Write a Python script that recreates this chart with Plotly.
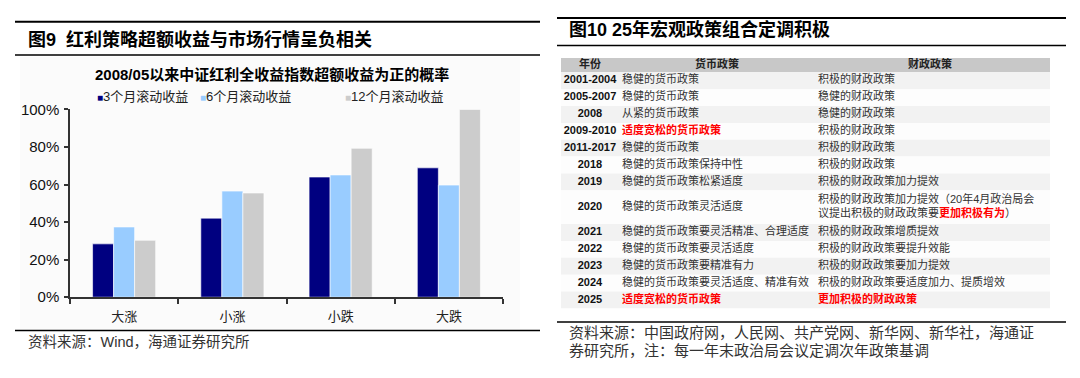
import plotly.graph_objects as go

# ---------------- data: left bar chart ----------------
categories = ["大涨", "小涨", "小跌", "大跌"]
series_names = ["3个月滚动收益", "6个月滚动收益", "12个月滚动收益"]
series_colors = ["#000080", "#99ccff", "#cccccc"]
ret_3m = [0.284, 0.421, 0.640, 0.689]
ret_6m = [0.374, 0.565, 0.651, 0.597]
ret_12m = [0.303, 0.555, 0.793, 1.000]
series_values = [ret_3m, ret_6m, ret_12m]
y_tickvals = [0, 0.2, 0.4, 0.6, 0.8, 1.0]
y_ticktext = ["0%", "20%", "40%", "60%", "80%", "100%"]

# ---------------- data: right table ----------------
table_header = ["年份", "货币政策", "财政政策"]
years = ["2001-2004", "2005-2007", "2008", "2009-2010", "2011-2017", "2018", "2019",
         "2020", "2021", "2022", "2023", "2024", "2025"]
monetary = ["稳健的货币政策", "稳健的货币政策", "从紧的货币政策", "适度宽松的货币政策",
            "稳健的货币政策", "稳健的货币政策保持中性", "稳健的货币政策松紧适度",
            "稳健的货币政策灵活适度", "稳健的货币政策要灵活精准、合理适度",
            "稳健的货币政策要灵活适度", "稳健的货币政策要精准有力",
            "稳健的货币政策要灵活适度、精准有效", "适度宽松的货币政策"]
fiscal = ["积极的财政政策", "稳健的财政政策", "稳健的财政政策", "积极的财政政策",
          "积极的财政政策", "积极的财政政策", "积极的财政政策加力提效",
          "积极的财政政策加力提效（20年4月政治局会|议提出积极的财政政策要更加积极有为）",
          "积极的财政政策增质提效", "积极的财政政策要提升效能", "积极的财政政策要加力提效",
          "积极的财政政策要适度加力、提质增效", "更加积极的财政政策"]
monetary_red = [False, False, False, True, False, False, False, False, False, False, False, False, True]
fiscal_red = [False] * 12 + [True]
fiscal_red_phrase = "更加积极有为"

# The page body keeps its default 8px margin, so the figure is sized to fill
# the 1080x378 window exactly and window coordinates are shifted by 8px.
PAGE_MARGIN = 8
W, H = 1080 - 2 * PAGE_MARGIN, 378 - 2 * PAGE_MARGIN
def px(x):
    return (x - PAGE_MARGIN) / W
def py(y):
    return 1 - (y - PAGE_MARGIN) / H

CJK = "Liberation Sans, Arial, Noto Sans CJK SC"
RED = "#ff0000"

fig = go.Figure()

# ---------------- bars ----------------
for name, color, vals in zip(series_names, series_colors, series_values):
    fig.add_trace(go.Bar(
        x=categories, y=vals, name=name,
        marker=dict(color=color, line=dict(color="#ffffff", width=0.6)),
        showlegend=False, hoverinfo="skip",
    ))

fig.update_layout(
    width=W, height=H,
    margin=dict(l=0, r=0, t=0, b=0),
    paper_bgcolor="#ffffff", plot_bgcolor="rgba(0,0,0,0)",
    barmode="group", bargap=0.417, bargroupgap=0,
    font=dict(family=CJK, color="#111111"),
    showlegend=False,
    xaxis=dict(
        domain=[px(70), px(503)],
        showline=True, linecolor="#333333", linewidth=1.5,
        ticks="outside", tickson="boundaries", ticklen=5, tickcolor="#333333", tickwidth=1.5,
        ticklabelstandoff=6,
        tickfont=dict(size=13, color="#222222"), showgrid=False, zeroline=False,
        fixedrange=True,
    ),
    yaxis=dict(
        domain=[py(302), py(105)], range=[0, 1.0],
        tickvals=y_tickvals, ticktext=y_ticktext,
        showline=True, linecolor="#333333", linewidth=1.5,
        ticks="outside", ticklen=4, tickcolor="#333333", tickwidth=1.5,
        ticklabelstandoff=2,
        tickfont=dict(size=15, color="#111111", family="Liberation Sans, Arial"),
        showgrid=False, zeroline=False, fixedrange=True,
    ),
)

# ---------------- table (drawn on its own axes) ----------------
TBL_X0, TBL_X1, TBL_Y0 = 561, 1050, 51
HEADER_H, ROW_H = 15, 17.7
COL_YEAR_C, COL_MON_L, COL_FIS_L = 29, 61, 257
HDR_CENTERS = [29, 156, 369]
tbl_w = TBL_X1 - TBL_X0

lines = [f.count("|") + 1 for f in fiscal]
heights = [HEADER_H] + [ROW_H * n for n in lines]
centers, acc = [], 0.0
for h in heights:
    centers.append(acc + h / 2)
    acc += h
total_h = acc
row_fill = ["#c8c8c8"] + ["#f2f2f2" if i % 2 == 0 else "#fdfdfd" for i in range(len(years))]

fig.add_trace(go.Bar(
    x=[tbl_w] * len(heights), y=centers, base=0, width=heights, orientation="h",
    marker=dict(color=row_fill, line=dict(width=0)),
    xaxis="x2", yaxis="y2", hoverinfo="skip", showlegend=False,
))

def red(s):
    return f"<span style='color:{RED}'><b>{s}</b></span>"

mon_cells = [red(t) if r else t for t, r in zip(monetary, monetary_red)]
fis_cells = []
for t, r in zip(fiscal, fiscal_red):
    if r:
        fis_cells.append(red(t))
    else:
        fis_cells.append(t.replace(fiscal_red_phrase, red(fiscal_red_phrase)).replace("|", "<br>"))

row_c = centers[1:]
fig.add_trace(go.Scatter(
    x=HDR_CENTERS, y=[centers[0]] * 3, mode="text",
    text=[f"<b>{h}</b>" for h in table_header], textposition="middle center",
    textfont=dict(size=11, color="#222222", family=CJK),
    xaxis="x2", yaxis="y2", hoverinfo="skip", showlegend=False,
))
fig.add_trace(go.Scatter(
    x=[COL_YEAR_C] * len(years), y=row_c, mode="text",
    text=[f"<b>{y}</b>" for y in years], textposition="middle center",
    textfont=dict(size=11, color="#111111", family="Liberation Sans, Arial"),
    xaxis="x2", yaxis="y2", hoverinfo="skip", showlegend=False,
))
fig.add_trace(go.Scatter(
    x=[COL_MON_L] * len(years), y=row_c, mode="text",
    text=mon_cells, textposition="middle right",
    textfont=dict(size=11, color="#333333", family=CJK),
    xaxis="x2", yaxis="y2", hoverinfo="skip", showlegend=False,
))
fig.add_trace(go.Scatter(
    x=[COL_FIS_L] * len(years), y=row_c, mode="text",
    text=fis_cells, textposition="middle right",
    textfont=dict(size=11, color="#333333", family=CJK),
    xaxis="x2", yaxis="y2", hoverinfo="skip", showlegend=False,
))

fig.update_layout(
    xaxis2=dict(domain=[px(TBL_X0), px(TBL_X1)], range=[0, tbl_w], visible=False,
                anchor="y2", fixedrange=True),
    yaxis2=dict(domain=[py(TBL_Y0 + total_h), py(TBL_Y0)], range=[total_h, 0],
                visible=False, anchor="x2", fixedrange=True),
)

# ---------------- titles, legend, rules, sources ----------------
ann = []
ann.append(dict(x=px(26), y=py(32), text="<b>图9  红利策略超额收益与市场行情呈负相关</b>",
                font=dict(size=18, color="#000000")))
ann.append(dict(x=px(567), y=py(21), text="<b>图10 25年宏观政策组合定调积极</b>",
                font=dict(size=18, color="#000000")))
ann.append(dict(x=px(272), y=py(68), xanchor="center",
                text="<b>2008/05以来中证红利全收益指数超额收益为正的概率</b>",
                font=dict(size=15, color="#000000")))
legend_x = [95, 198, 343]
for lx, name, color in zip(legend_x, series_names, series_colors):
    ann.append(dict(x=px(lx), y=py(91),
                    text=f"<span style='font-size:10px;color:{color}'>■</span>{name}",
                    font=dict(size=13, color="#222222")))
ann.append(dict(x=px(26), y=py(349), text="资料来源：Wind，海通证券研究所",
                font=dict(size=14.5, color="#333333")))
ann.append(dict(x=px(567), y=py(339), text="资料来源：中国政府网，人民网、共产党网、新华网、新华社，海通证",
                font=dict(size=15, color="#333333")))
ann.append(dict(x=px(567), y=py(358), text="券研究所，注：每一年末政治局会议定调次年政策基调",
                font=dict(size=15, color="#333333")))
for a in ann:
    a.setdefault("xanchor", "left")
    a.update(xref="paper", yref="paper", yanchor="middle", showarrow=False)
fig.update_layout(annotations=ann)

shapes = [dict(type="rect", xref="paper", yref="paper", layer="below",
               x0=px(20), x1=px(520), y0=py(335), y1=py(50),
               fillcolor="#fbfbfb", line=dict(width=0))]
for (x0, x1, y, w) in [(15, 540, 13, 2), (15, 540, 48, 1.5), (15, 540, 337, 1.5),
                       (557, 1066, 9, 2), (557, 1066, 38, 1.5), (557, 1066, 328, 1.5)]:
    shapes.append(dict(type="line", xref="paper", yref="paper",
                       x0=px(x0), x1=px(x1), y0=py(y), y1=py(y),
                       line=dict(color="#000000", width=w)))
fig.update_layout(shapes=shapes)

fig.write_html("out.html", config={"displayModeBar": False})
